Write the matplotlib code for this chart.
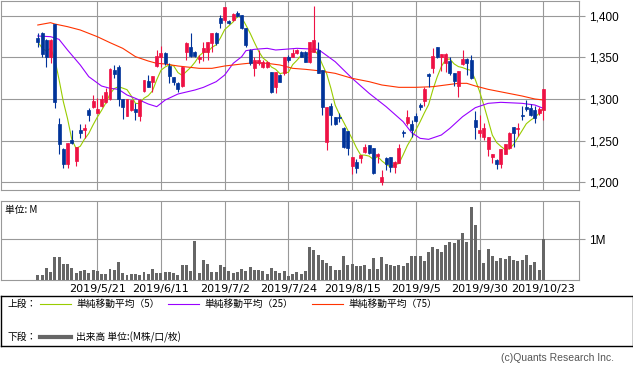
import matplotlib
matplotlib.use('Agg')
import matplotlib.pyplot as plt
import numpy as np
import pandas as pd

plt.rcParams['font.family'] = ['Liberation Sans', 'Noto Sans CJK JP', 'DejaVu Sans']

# daily prices (yen), one row per trading day
opens = [1373.6, 1378.8, 1370.8, 1350.0, 1389.6, 1270.0, 1240.0, 1222.0, 1250.8, 1226.0,
         1262.8, 1262.8, 1286.8, 1290.8, 1283.6, 1291.6, 1296.8, 1299.6, 1334.8, 1338.8,
         1299.6, 1280.0, 1286.8, 1287.6, 1279.6, 1310.0, 1322.0, 1320.8, 1339.6, 1350.8,
         1354.8, 1340.0, 1326.0, 1319.6, 1315.6, 1356.8, 1362.8, 1356.8, 1347.6, 1356.8,
         1356.8, 1366.8, 1378.8, 1396.8, 1394.8, 1393.6, 1394.8, 1402.8, 1400.8, 1384.8,
         1358.8, 1336.8, 1342.8, 1338.8, 1338.8, 1332.8, 1314.0, 1328.8, 1330.8, 1350.0,
         1350.8, 1354.8, 1356.8, 1356.8, 1344.8, 1356.8, 1358.8, 1334.8, 1248.8, 1291.6,
         1278.0, 1278.8, 1265.6, 1261.6, 1220.0, 1224.8, 1228.8, 1236.8, 1244.8, 1240.8,
         1232.0, 1200.8, 1228.8, 1230.0, 1218.8, 1223.6, 1260.8, 1270.8, 1270.0, 1280.0,
         1292.8, 1298.0, 1330.0, 1336.8, 1362.0, 1350.0, 1343.6, 1345.6, 1330.8, 1315.6,
         1342.0, 1347.6, 1346.8, 1274.8, 1259.6, 1254.8, 1239.6, 1230.0, 1226.8, 1221.6,
         1234.0, 1240.8, 1266.0, 1264.0, 1280.8, 1290.0, 1288.8, 1286.8, 1282.8, 1286.8]
highs = [1378.8, 1380.0, 1372.0, 1372.0, 1390.0, 1276.8, 1241.0, 1247.0, 1262.8, 1242.0,
         1270.0, 1270.0, 1288.8, 1304.8, 1300.8, 1304.8, 1313.6, 1337.0, 1340.8, 1340.8,
         1300.0, 1300.0, 1299.0, 1295.6, 1300.0, 1323.0, 1328.8, 1328.0, 1358.8, 1363.6,
         1356.8, 1342.8, 1327.0, 1320.0, 1340.0, 1368.8, 1378.8, 1358.0, 1352.8, 1368.8,
         1369.0, 1379.0, 1380.0, 1400.8, 1411.0, 1395.0, 1403.0, 1405.6, 1401.0, 1385.0,
         1360.0, 1350.0, 1358.8, 1346.8, 1346.0, 1333.0, 1333.0, 1330.0, 1351.0, 1352.8,
         1359.6, 1360.0, 1358.0, 1358.0, 1369.0, 1411.6, 1368.8, 1335.0, 1291.0, 1294.8,
         1278.8, 1282.8, 1266.0, 1262.0, 1231.0, 1227.6, 1233.0, 1246.0, 1245.0, 1241.0,
         1234.8, 1214.8, 1230.0, 1230.5, 1226.0, 1246.0, 1262.8, 1286.8, 1274.8, 1282.8,
         1294.8, 1314.0, 1331.6, 1361.6, 1362.5, 1354.0, 1354.8, 1350.0, 1331.0, 1334.0,
         1358.8, 1348.8, 1352.8, 1285.6, 1280.8, 1270.8, 1255.0, 1234.5, 1228.4, 1240.0,
         1246.5, 1260.0, 1266.8, 1271.6, 1291.6, 1298.8, 1294.0, 1291.6, 1290.8, 1312.0]
lows = [1362.8, 1350.0, 1338.8, 1343.6, 1289.6, 1233.6, 1216.8, 1216.8, 1246.0, 1220.0,
        1252.8, 1252.8, 1274.0, 1288.8, 1282.8, 1290.8, 1294.8, 1298.8, 1324.8, 1291.6,
        1275.6, 1280.0, 1286.0, 1274.8, 1274.0, 1308.8, 1314.0, 1308.8, 1338.8, 1338.8,
        1340.8, 1318.8, 1316.8, 1308.8, 1314.8, 1346.8, 1350.8, 1350.0, 1342.8, 1345.6,
        1346.8, 1356.8, 1364.8, 1385.0, 1393.0, 1390.0, 1394.0, 1398.0, 1383.6, 1362.8,
        1340.8, 1327.6, 1340.8, 1336.8, 1336.8, 1306.8, 1306.8, 1320.0, 1328.8, 1344.8,
        1350.0, 1354.0, 1350.0, 1344.0, 1342.8, 1356.0, 1330.8, 1280.8, 1238.8, 1268.8,
        1268.8, 1272.8, 1240.8, 1232.8, 1209.6, 1210.8, 1222.8, 1234.8, 1234.0, 1210.0,
        1222.8, 1196.8, 1214.8, 1212.8, 1210.8, 1222.8, 1254.0, 1268.8, 1254.8, 1272.8,
        1286.8, 1291.6, 1314.8, 1331.6, 1348.8, 1333.6, 1332.8, 1328.8, 1315.6, 1302.0,
        1340.8, 1328.8, 1323.6, 1251.6, 1254.8, 1250.8, 1231.6, 1222.8, 1215.6, 1216.8,
        1233.5, 1240.0, 1242.8, 1255.6, 1274.8, 1286.0, 1279.6, 1271.6, 1280.8, 1274.8]
closes = [1368.8, 1353.6, 1350.0, 1370.8, 1296.8, 1246.0, 1222.0, 1246.8, 1246.8, 1242.0,
          1258.8, 1264.8, 1280.8, 1297.6, 1288.4, 1299.6, 1308.8, 1336.0, 1330.0, 1299.6,
          1290.8, 1299.6, 1298.8, 1284.8, 1298.8, 1322.8, 1314.8, 1327.6, 1351.6, 1355.6,
          1342.8, 1327.6, 1320.8, 1311.6, 1338.8, 1366.8, 1351.6, 1351.6, 1350.0, 1360.8,
          1368.8, 1378.8, 1366.8, 1391.6, 1410.8, 1391.6, 1402.0, 1399.6, 1384.8, 1364.8,
          1342.8, 1346.8, 1346.8, 1344.8, 1344.8, 1308.8, 1332.8, 1320.8, 1350.8, 1346.8,
          1354.8, 1358.8, 1350.8, 1344.8, 1368.8, 1370.8, 1331.6, 1290.0, 1290.8, 1280.8,
          1270.0, 1276.8, 1242.8, 1240.8, 1230.8, 1216.8, 1232.8, 1242.0, 1234.8, 1210.8,
          1234.0, 1206.8, 1222.0, 1218.8, 1224.0, 1241.2, 1258.8, 1278.0, 1262.8, 1274.0,
          1290.0, 1312.0, 1327.6, 1351.6, 1350.0, 1353.6, 1353.6, 1331.6, 1322.0, 1333.6,
          1347.6, 1343.6, 1324.8, 1266.0, 1262.8, 1265.6, 1254.8, 1234.0, 1222.0, 1239.6,
          1246.0, 1259.6, 1259.6, 1264.8, 1280.0, 1287.6, 1280.8, 1276.8, 1288.0, 1311.6]

# volume in millions of shares
volumes = [0.11, 0.12, 0.29, 0.20, 0.56, 0.56, 0.39, 0.39, 0.29, 0.17,
           0.22, 0.24, 0.17, 0.24, 0.21, 0.15, 0.15, 0.26, 0.24, 0.44,
           0.17, 0.12, 0.15, 0.15, 0.12, 0.20, 0.15, 0.27, 0.17, 0.16,
           0.20, 0.20, 0.17, 0.12, 0.37, 0.37, 0.22, 0.95, 0.17, 0.49,
           0.39, 0.20, 0.20, 0.37, 0.32, 0.22, 0.17, 0.20, 0.27, 0.22,
           0.32, 0.24, 0.24, 0.22, 0.15, 0.29, 0.22, 0.17, 0.22, 0.10,
           0.15, 0.20, 0.15, 0.22, 0.81, 0.73, 0.61, 0.49, 0.42, 0.34,
           0.24, 0.24, 0.59, 0.37, 0.39, 0.34, 0.34, 0.37, 0.27, 0.54,
           0.27, 0.56, 0.39, 0.37, 0.34, 0.37, 0.34, 0.42, 0.59, 0.59,
           0.59, 0.46, 0.68, 0.81, 0.76, 0.68, 0.85, 0.93, 0.90, 0.98,
           1.15, 0.93, 1.78, 1.34, 0.73, 0.42, 0.76, 0.59, 0.46, 0.54,
           0.51, 0.59, 0.49, 0.46, 0.49, 0.61, 0.37, 0.44, 0.24, 1.00]

# 25 and 75 day averages (they need history before the window)
ma25_day = [0, 3, 5, 7, 10, 12, 15, 17, 19, 21, 23, 26, 28, 30, 33, 37, 39, 42, 44, 46,
            48, 49, 51, 54, 56, 58, 61, 66, 70, 74, 78, 82, 86, 88, 90, 92, 95, 97, 100, 103,
            106, 109, 114, 117, 119]
ma25_val = [1375.6, 1374.8, 1371.6, 1358.8, 1340.8, 1326.8, 1315.6, 1312.8, 1311.6, 1304.8,
            1300.8, 1294.0, 1290.8, 1298.8, 1306.0, 1310.8, 1314.0, 1320.8, 1328.8, 1342.8,
            1350.8, 1358.0, 1359.6, 1360.8, 1358.8, 1359.6, 1360.8, 1359.6, 1344.8, 1324.8,
            1306.8, 1290.8, 1272.8, 1259.6, 1252.8, 1251.6, 1256.8, 1264.8, 1278.8, 1289.6,
            1294.8, 1296.0, 1294.8, 1292.8, 1288.8]
ma75_day = [0, 3, 4, 7, 10, 14, 17, 20, 23, 26, 28, 30, 33, 38, 41, 44, 48, 51, 54, 57,
            60, 63, 66, 70, 74, 78, 81, 85, 89, 93, 96, 99, 101, 103, 106, 110, 114, 117, 119]
ma75_val = [1388.8, 1391.6, 1390.0, 1386.8, 1382.8, 1374.8, 1367.6, 1360.8, 1350.8, 1345.6,
            1342.8, 1342.0, 1339.6, 1336.8, 1336.8, 1339.6, 1342.0, 1343.6, 1342.8, 1340.8,
            1336.8, 1335.6, 1334.0, 1330.8, 1324.8, 1320.8, 1316.8, 1314.0, 1314.0, 1314.8,
            1316.8, 1318.8, 1318.8, 1315.6, 1311.6, 1307.6, 1303.6, 1300.0, 1298.8]

date_labels = ['2019/5/21', '2019/6/11', '2019/7/2', '2019/7/24',
               '2019/8/15', '2019/9/5', '2019/9/30', '2019/10/23']

up_col = '#ee1144'
down_col = '#003399'
grid_col = '#999999'
c5, c25, c75 = '#99cc00', '#9900ff', '#ff3300'

W, H = 633, 372
fig = plt.figure(figsize=(W / 100, H / 100), dpi=100)

def box(x0, y0, x1, y1):
    # pixel box (top-left origin) -> figure fraction rect
    return [x0 / W, 1 - y1 / H, (x1 - x0) / W, (y1 - y0) / H]

ax = fig.add_axes(box(1, 1, 579, 190))
axv = fig.add_axes(box(1, 201, 579, 280))

n = len(closes)
x = np.arange(n)
o = np.array(opens); c = np.array(closes)
hi = np.array(highs); lo = np.array(lows)
up = c >= o
cols = np.where(up, up_col, down_col)

ax.vlines(x, lo, hi, colors=cols, linewidth=0.8, zorder=3)
ax.bar(x, np.abs(c - o), bottom=np.minimum(o, c), width=0.7, color=cols,
       edgecolor=cols, linewidth=0.5, zorder=4)

ma5 = pd.Series(closes).rolling(5, min_periods=1).mean()
ax.plot(x, ma5, color=c5, linewidth=0.8, zorder=2)
ax.plot(ma25_day, ma25_val, color=c25, linewidth=0.8, zorder=2)
ax.plot(ma75_day, ma75_val, color=c75, linewidth=0.8, zorder=2)

tick_idx = list(range(14, n, 15))
xlim = (-8.66, 127.4)

ax.set_xlim(*xlim)
ax.set_ylim(1190.8, 1417.6)
ax.set_yticks([1200, 1250, 1300, 1350, 1400])
ax.set_yticklabels(['{:,}'.format(v) for v in [1200, 1250, 1300, 1350, 1400]])
ax.yaxis.tick_right()
ax.set_xticks(tick_idx)
ax.tick_params(axis='x', length=0, labelbottom=False)
ax.tick_params(axis='y', length=4.5, color=grid_col, labelsize=8.5, pad=3)
ax.grid(True, color=grid_col, linewidth=0.8, zorder=0)
ax.set_axisbelow(True)
for s in ax.spines.values():
    s.set_color(grid_col)
    s.set_linewidth(0.8)

axv.bar(x, volumes, width=0.7, color='#666666', zorder=3)
axv.set_xlim(*xlim)
axv.set_ylim(0, 1.927)
axv.set_yticks([1])
axv.set_yticklabels(['1M'])
axv.yaxis.tick_right()
axv.set_xticks(tick_idx)
axv.set_xticklabels(date_labels, family='DejaVu Sans')
axv.tick_params(axis='x', length=0, labelsize=8, pad=3)
axv.tick_params(axis='y', length=4.5, color=grid_col, labelsize=8.5, pad=3)
axv.grid(True, color=grid_col, linewidth=0.8, zorder=0)
axv.set_axisbelow(True)
for s in axv.spines.values():
    s.set_color(grid_col)
    s.set_linewidth(0.8)
axv.text(4 / 578, 1 - 9 / 79, '単位: M', transform=axv.transAxes, fontsize=7,
         family=['Noto Sans CJK JP', 'DejaVu Sans'], va='center', ha='left')

# legend box at the bottom, drawn in pixel coordinates
leg = fig.add_axes(box(0.5, 296, 632.5, 346))
leg.set_xlim(0.5, 632.5)
leg.set_ylim(346, 296)
leg.set_xticks([]); leg.set_yticks([])
for s in leg.spines.values():
    s.set_color('black')
    s.set_linewidth(1)
jp = ['Noto Sans CJK JP', 'DejaVu Sans']
leg.text(8, 303.5, '上段：', fontsize=7, family=jp, va='center')
for x0, col, lab in [(40, c5, '単純移動平均（5）'), (168, c25, '単純移動平均（25）'),
                     (312, c75, '単純移動平均（75）')]:
    leg.plot([x0, x0 + 31], [303.5, 303.5], color=col, linewidth=0.8)
    leg.text(x0 + 36, 303.5, lab, fontsize=7, family=jp, va='center')
leg.text(8, 337, '下段：', fontsize=7, family=jp, va='center')
leg.plot([40, 71], [337, 337], color='#666666', linewidth=3)
leg.text(76, 337, '出来高 単位:(M株/口/枚)', fontsize=7, family=jp, va='center')

fig.text(614 / W, 1 - 358 / H, '(c)Quants Research Inc.', fontsize=7.5,
         color='#555555', ha='right', va='center')

fig.savefig('out.png', dpi=100)
